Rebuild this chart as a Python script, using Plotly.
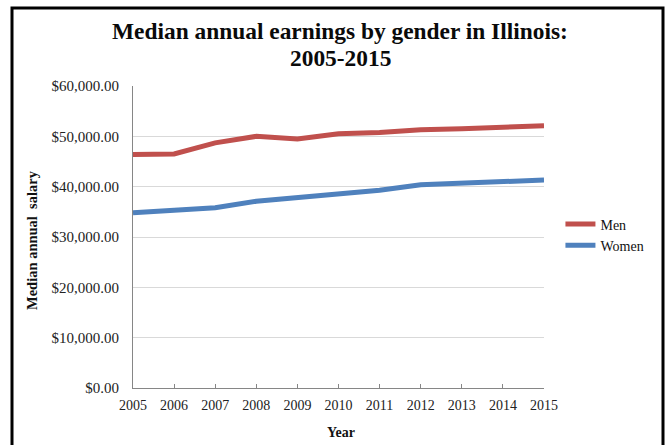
import plotly.graph_objects as go

years = [2005, 2006, 2007, 2008, 2009, 2010, 2011, 2012, 2013, 2014, 2015]
men = [46400, 46500, 48700, 50000, 49450, 50500, 50750, 51300, 51500, 51700, 52100]
women = [34800, 35200, 35800, 37100, 37900, 38700, 39300, 40400, 40750, 40950, 41300]
series_names = ["Men", "Women"]
series_colors = ["#C0504D", "#4F81BD"]
title_lines = ["<b>Median annual earnings by gender in Illinois:</b>", "<b>2005-2015</b>"]
x_title = "<b>Year</b>"
y_title = "<b>Median annual  salary</b>"

serif = "Liberation Serif"

fig = go.Figure()
for name, vals, col in zip(series_names, [men, women], series_colors):
    fig.add_trace(go.Scatter(x=years, y=vals, mode="lines", name=name,
                             line=dict(color=col, width=5)))

fig.update_layout(
    width=667, height=445,
    margin=dict(l=133, r=123, t=86, b=57),
    paper_bgcolor="white", plot_bgcolor="white",
    showlegend=True,
    legend=dict(x=1.04, y=(388 - 235) / 302, xanchor="left", yanchor="middle",
                font=dict(family=serif, size=14, color="#111"),
                bgcolor="rgba(0,0,0,0)", tracegroupgap=0),
    xaxis=dict(range=[2005, 2015], tickvals=years, ticktext=[str(y) for y in years],
               showgrid=False, zeroline=False, showline=True, linecolor="#868686",
               linewidth=1, ticks="inside", ticklen=4, tickcolor="#868686",
               ticklabelstandoff=4,
               tickfont=dict(family=serif, size=14, color="#222")),
    yaxis=dict(range=[0, 60000], dtick=10000, tickprefix="$", tickformat=",.2f",
               showgrid=True, gridcolor="#D9D9D9", gridwidth=1, zeroline=False,
               showline=True, linecolor="#868686", linewidth=1, ticks="",
               ticklabelstandoff=10,
               tickfont=dict(family=serif, size=15, color="#222")),
    annotations=[
        dict(text=title_lines[0], xref="paper", yref="paper", x=(340 - 133) / 411,
             y=(388 - 31) / 302, showarrow=False, xanchor="center", yanchor="middle",
             font=dict(family=serif, size=23.4, color="#0a0a0a")),
        dict(text=title_lines[1], xref="paper", yref="paper", x=(340 - 133) / 411,
             y=(388 - 58) / 302, showarrow=False, xanchor="center", yanchor="middle",
             font=dict(family=serif, size=23.4, color="#0a0a0a")),
        dict(text=x_title, xref="paper", yref="paper", x=0.505, y=(388 - 432) / 302,
             showarrow=False, xanchor="center", yanchor="middle",
             font=dict(family=serif, size=14, color="#111")),
        dict(text=y_title, xref="paper", yref="paper", x=(32 - 133) / 411, y=(388 - 240) / 302,
             showarrow=False, xanchor="center", yanchor="middle", textangle=-90,
             font=dict(family=serif, size=14.5, color="#111")),
    ],
    shapes=[
        dict(type="rect", xref="paper", yref="paper",
             x0=(12 - 133) / 411, x1=(663 - 133) / 411,
             y0=(388 - 460) / 302, y1=(388 - 8) / 302,
             line=dict(color="black", width=3), fillcolor="rgba(0,0,0,0)", layer="above"),
    ],
)

fig.write_html("out.html", config={"displayModeBar": False},
               post_script="document.body.style.margin='0';document.body.style.overflow='hidden';")
